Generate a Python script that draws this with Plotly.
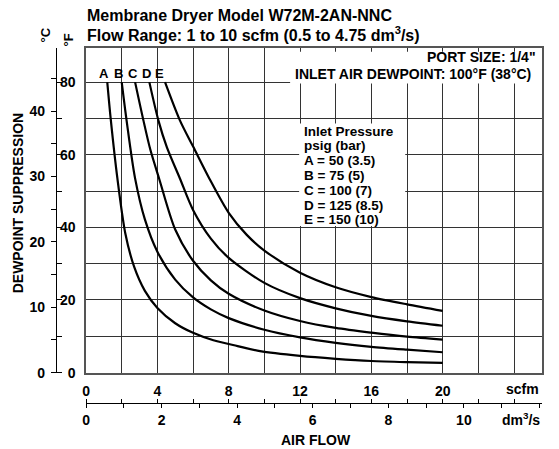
import plotly.graph_objects as go

# ---------------- data ----------------
# x: air flow in scfm, y: dewpoint suppression in degF
A_x = [1.19, 1.38, 1.76, 2.2, 2.7, 3.3, 4.0, 5.0, 6.0, 7.14, 8.5, 9.76, 12, 14, 16, 18, 20]
A_y = [80, 70, 53.4, 38.4, 29.1, 22.5, 17.8, 13.6, 10.95, 8.9, 7.3, 5.9, 4.6, 3.8, 3.2, 2.9, 2.7]
B_x = [2.0, 2.28, 2.75, 3.3, 4, 5, 6, 7, 8, 10, 12, 14, 16, 18, 20]
B_y = [80, 69.2, 53.5, 42.2, 33.3, 25.6, 20.7, 17.4, 15.0, 11.8, 9.7, 8.2, 7.1, 6.3, 5.6]
C_x = [2.75, 3.22, 3.6, 4.1, 5, 6, 7, 8, 10, 12, 14, 16, 18, 20]
C_y = [80, 69.4, 61.5, 53.4, 39.4, 30.8, 25.4, 21.7, 17.1, 14.2, 12.3, 11.0, 9.9, 9.1]
D_x = [3.55, 4.06, 4.53, 5.27, 6, 7, 8, 10, 12, 14, 16, 18, 20]
D_y = [80, 69.4, 62.1, 53.4, 44.8, 36.9, 31.6, 24.7, 20.5, 17.7, 15.6, 14.1, 12.9]
E_x = [4.43, 5.27, 6.02, 6.92, 8, 9, 10, 12, 14, 16, 18, 20]
E_y = [80, 69.4, 62.1, 53.4, 44.0, 38.0, 33.6, 27.5, 23.5, 20.8, 18.8, 17.0]

curves = [("A", A_x, A_y), ("B", B_x, B_y), ("C", C_x, C_y), ("D", D_x, D_y), ("E", E_x, E_y)]

scfm_ticks = list(range(0, 26, 2))
scfm_labels = ["0", "", "4", "", "8", "", "12", "", "16", "", "20", "", ""]
dm3_ticks = list(range(0, 13))
dm3_labels = ["0", "", "2", "", "4", "", "6", "", "8", "", "10", "", ""]
degF_ticks = list(range(0, 90, 10))
degF_labels = ["0", "", "20", "", "40", "", "60", "", "80"]
degC_ticks = list(range(0, 50, 5))
degC_labels = ["0", "", "10", "", "20", "", "30", "", "40", ""]

legend_lines = ["Inlet Pressure", "psig (bar)", "A = 50 (3.5)", "B = 75 (5)",
                "C = 100 (7)", "D = 125 (8.5)", "E = 150 (10)"]

X_MAX = 25.57          # scfm
Y_MAX = 89.4           # degF
SCFM_TO_DM3 = 0.471947

# ---------------- geometry ----------------
W, H = 559, 449
ML, MR, MT, MB = 0, 17.3, 47.5, 0
PW = W - ML - MR
PH = H - MT - MB


def px(x):
    return (x - ML) / PW


def py(y):
    return (H - MB - y) / PH


FONT = "Liberation Sans, Arial, sans-serif"

fig = go.Figure()
for name, xs, ys in curves:
    fig.add_trace(go.Scatter(x=xs, y=ys, mode="lines", name=name,
                             line=dict(color="black", width=2.2, shape="spline", smoothing=0.8),
                             showlegend=False, hoverinfo="skip"))

# invisible helpers so that the extra scale axes get drawn
for xa, ya in [("x2", "y"), ("x3", "y"), ("x", "y2"), ("x", "y3")]:
    fig.add_trace(go.Scatter(x=[0], y=[0], xaxis=xa, yaxis=ya, mode="markers",
                             marker=dict(opacity=0, size=1), showlegend=False, hoverinfo="skip"))

x_dom = [px(86), 1]
y_dom = [py(372.5), 1]
pos_bottom = py(403)
pos_left = px(56)

tf = dict(family=FONT, size=14, color="black", weight="bold")

fig.update_layout(
    width=W, height=H,
    margin=dict(l=ML, r=MR, t=MT, b=MB, pad=0),
    paper_bgcolor="white", plot_bgcolor="white",
    font=dict(family=FONT, color="black"),
    xaxis=dict(domain=x_dom, anchor="y", range=[0, X_MAX], tickvals=scfm_ticks, ticktext=scfm_labels,
               showgrid=True, gridcolor="#333", gridwidth=1, zeroline=False,
               showline=True, mirror=True, linecolor="#555", linewidth=1.5,
               ticks="", ticklabelstandoff=5, tickfont=tf, automargin=False),
    yaxis=dict(domain=y_dom, anchor="x", range=[0, Y_MAX], tickvals=degF_ticks, ticktext=degF_labels,
               showgrid=True, gridcolor="#333", gridwidth=1, zeroline=False,
               showline=True, mirror=True, linecolor="#555", linewidth=1.5,
               ticks="", ticklabelstandoff=6, tickfont=tf, automargin=False),
    xaxis2=dict(overlaying="x", anchor="free", position=pos_bottom, side="bottom",
                range=[0, X_MAX * SCFM_TO_DM3], tickvals=dm3_ticks, ticktext=dm3_labels,
                showgrid=False, zeroline=False, showline=True, linecolor="black", linewidth=1.2,
                ticks="outside", ticklen=4, tickcolor="black", tickwidth=1,
                ticklabelstandoff=0, tickfont=tf, automargin=False),
    xaxis3=dict(overlaying="x", anchor="free", position=pos_bottom, side="top",
                range=[0, X_MAX], tickvals=scfm_ticks, showticklabels=False,
                showgrid=False, zeroline=False, showline=False,
                ticks="outside", ticklen=4, tickcolor="black", tickwidth=1, automargin=False),
    yaxis2=dict(overlaying="y", anchor="free", position=pos_left, side="left",
                range=[0, Y_MAX / 1.8], tickvals=degC_ticks, ticktext=degC_labels,
                showgrid=False, zeroline=False, showline=True, linecolor="black", linewidth=1.2,
                ticks="outside", ticklen=5, tickcolor="black", tickwidth=1,
                ticklabelstandoff=3, tickfont=tf, automargin=False),
    yaxis3=dict(overlaying="y", anchor="free", position=pos_left, side="right",
                range=[0, Y_MAX], tickvals=degF_ticks, showticklabels=False,
                showgrid=False, zeroline=False, showline=False,
                ticks="outside", ticklen=5, tickcolor="black", tickwidth=1, automargin=False),
)

# white boxes behind the notes (cover gridlines)
fig.add_shape(type="rect", xref="x", yref="y", x0=(290 - 86) / 17.825, x1=X_MAX, y0=79.6, y1=88.4,
              fillcolor="white", line=dict(width=0), layer="between")
fig.add_shape(type="rect", xref="x", yref="y", x0=11.95, x1=17.9, y0=40.4, y1=68.6,
              fillcolor="white", line=dict(width=0), layer="between")


def ann(text, x, y, size=14, xanchor="center", yanchor="middle", angle=0):
    fig.add_annotation(text=text, x=px(x), y=py(y), xref="paper", yref="paper",
                       xanchor=xanchor, yanchor=yanchor, showarrow=False, textangle=angle,
                       borderpad=0,
                       font=dict(family=FONT, size=size, color="black", weight="bold"))


# titles
ann("Membrane Dryer Model W72M-2AN-NNC", 86, 15, size=16, xanchor="left")
ann("Flow Range: 1 to 10 scfm (0.5 to 4.75 dm<sup>3</sup>/s)", 86, 33, size=16, xanchor="left")

# notes
ann("PORT SIZE: 1/4\"", 537, 57, xanchor="right")
ann("INLET AIR DEWPOINT: 100°F (38°C)", 532, 74, xanchor="right")

# legend text
for i, line in enumerate(legend_lines):
    ann(line, 303.3, 130.7 + i * 14.8, size=13.5, xanchor="left")

# curve letters
for (name, _, _), cx in zip(curves, [104, 118.3, 133.3, 146.7, 159.3]):
    ann(name, cx, 73.3, size=13)

# axis units / titles
ann("scfm", 540, 389, xanchor="right")
ann("dm<sup>3</sup>/s", 541, 419, xanchor="right")
ann("AIR FLOW", 316, 440)
ann("DEWPOINT SUPPRESSION", 18, 203, angle=-90)
ann("°C", 45, 35, size=13, angle=-90)
ann("°F", 68, 40, size=13, angle=-90)

fig.write_html("out.html", config={"displayModeBar": False},
               post_script="document.body.style.margin='0';")
